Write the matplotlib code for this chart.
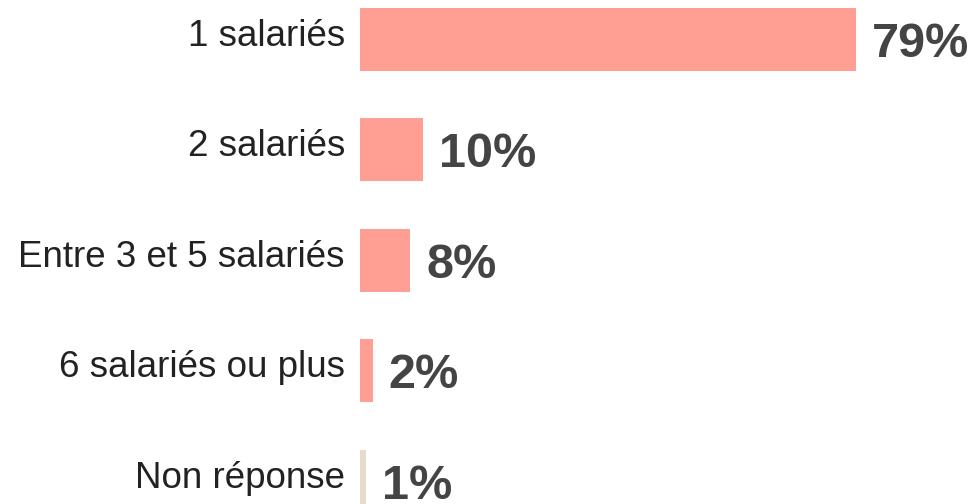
import matplotlib
matplotlib.use("Agg")
import matplotlib.pyplot as plt

categories = ["1 salariés", "2 salariés", "Entre 3 et 5 salariés", "6 salariés ou plus", "Non réponse"]
values = [79, 10, 8, 2, 1]
labels = ["79%", "10%", "8%", "2%", "1%"]
colors = ["#FF9F93", "#FF9F93", "#FF9F93", "#FF9F93", "#E6DCCB"]

plt.rcParams['font.family'] = ['Liberation Sans', 'DejaVu Sans']
W, H = 972, 504
fig = plt.figure(figsize=(W/100, H/100), dpi=100)
ax = fig.add_axes([360/W, 0, 1 - 360/W, 1])
ypos = list(range(len(categories)))
ax.barh(ypos, values, height=0.57, color=colors)
ax.set_xlim(0, 97.5)
ax.set_ylim(4.208, -0.353)
ax.axis('off')
for y, v, lab, cat in zip(ypos, values, labels, categories):
    ax.annotate(lab, (v, y), xytext=(16, -5), textcoords='offset pixels',
                ha='left', va='center', fontsize=35, fontweight='bold', color='#444444')
    ax.annotate(cat, (0, y), xytext=(-15, 3), textcoords='offset pixels',
                ha='right', va='center', fontsize=26.5, color='#222222', annotation_clip=False)
fig.savefig("out.png", dpi=100)
